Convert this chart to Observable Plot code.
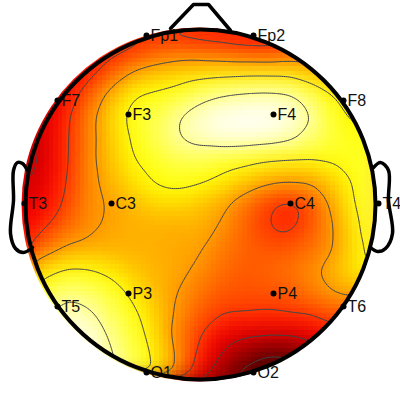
<!DOCTYPE html>
<html><head><meta charset="utf-8">
<style>html,body{margin:0;padding:0;background:#fff}svg{display:block}</style>
<script src="https://cdn.jsdelivr.net/npm/d3@7"></script>
<script src="https://cdn.jsdelivr.net/npm/@observablehq/plot@0.6"></script>
</head><body>
<script>
// Head-centred coordinates, y up
const gridX = [-176,-154,-132,-110,-88,-66,-44,-22,0,22,44,66,88,110,132,154,176];
const gridY = [176,154,132,110,88,66,44,22,0,-22,-44,-66,-88,-110,-132,-154,-176];
const grid = [
[.42,.42,.42,.42,.42,.42,.40,.38,.36,.36,.36,.36,.38,.42,.50,.60,.65],
[.38,.38,.38,.38,.42,.45,.50,.53,.52,.50,.47,.46,.50,.55,.60,.62,.65],
[.32,.32,.35,.42,.52,.62,.66,.68,.70,.71,.72,.72,.72,.66,.63,.64,.68],
[.28,.30,.40,.52,.65,.75,.77,.80,.86,.90,.92,.93,.92,.85,.75,.70,.71],
[.25,.33,.44,.57,.70,.79,.83,.90,.96,.99,1.0,1.0,.98,.91,.79,.73,.75],
[.25,.33,.45,.57,.68,.77,.83,.90,.94,.97,.97,.96,.93,.86,.80,.77,.78],
[.25,.33,.45,.58,.67,.75,.79,.82,.83,.80,.78,.75,.74,.74,.76,.78,.80],
[.27,.35,.46,.58,.64,.71,.76,.78,.76,.72,.67,.62,.60,.60,.67,.76,.83],
[.30,.38,.48,.58,.61,.65,.69,.69,.66,.62,.54,.46,.41,.48,.62,.75,.85],
[.35,.45,.53,.58,.62,.635,.635,.625,.635,.59,.52,.45,.42,.49,.59,.72,.85],
[.45,.55,.62,.635,.635,.635,.63,.62,.61,.55,.52,.50,.50,.53,.59,.70,.82],
[.65,.72,.77,.76,.72,.665,.64,.62,.58,.53,.50,.52,.54,.58,.64,.72,.75],
[.75,.82,.88,.85,.80,.72,.65,.60,.54,.50,.49,.49,.50,.55,.60,.62,.60],
[.85,.90,.95,.92,.84,.77,.68,.58,.50,.45,.45,.44,.45,.45,.50,.50,.50],
[.90,.95,.97,.97,.88,.80,.70,.55,.45,.33,.30,.29,.29,.33,.38,.40,.40],
[.92,.95,.95,.98,.91,.82,.73,.58,.40,.28,.20,.13,.14,.20,.28,.30,.30],
[.92,.92,.92,.92,.92,.85,.73,.55,.34,.16,.07,.02,.06,.10,.15,.20,.25]
];
const levels = [0.15,0.3,0.45,0.6,0.75,0.9];
const names = ["Fp1","Fp2","F7","F8","F3","F4","T3","C3","C4","T4","T5","P3","P4","T6","O1","O2"];
const elecX = [-54,53,-143,143,-72,73,-176,-89,90,178,-143,-72,73,143,-54,53];
const elecY = [169,169,104,104,90,90,1,1,1,1,-102,-89,-89,-102,-168,-168];
const noseX = [-30,-7,8,30];
const noseY = [176,200,200,174];
const earLX = [-173,-178,-183,-187,-187,-190,-185,-177,-168];
const earLY = [34,41,42,34,4,-29,-44,-48,-43];
const earRX = [173,180,188,188,192,185,177,170];
const earRY = [37,42,34,4,-29,-44,-47,-43];
const rasterCenterX = -2, rasterRadius = 177, headRadius = 175;

const samples = [];
gridY.forEach((y,j)=>gridX.forEach((x,i)=>samples.push({x,y,v:grid[j][i]})));
const electrodes = names.map((name,i)=>({name,x:elecX[i],y:elecY[i]}));
const path = (xs,ys)=>xs.map((x,i)=>({x,y:ys[i]}));

function clipCircle(cx, r, id){
  return function(index, scales, values, dims, ctx, next){
    const g = next(index, scales, values, dims, ctx);
    const ns="http://www.w3.org/2000/svg";
    const cp=document.createElementNS(ns,"clipPath"); cp.setAttribute("id",id);
    const c=document.createElementNS(ns,"circle");
    c.setAttribute("cx",scales.x(cx)); c.setAttribute("cy",scales.y(0)); c.setAttribute("r",r);
    cp.appendChild(c); g.appendChild(cp);
    g.setAttribute("clip-path",`url(#${id})`);
    return g;
  };
}

const chart = Plot.plot({
  width:400,height:400,margin:0,
  style:{background:"#fff"},
  x:{domain:[-200,200],range:[0,400],axis:null},
  y:{domain:[-196,204],range:[400,0],axis:null},
  color:{type:"linear",domain:[0,.37,.75,1],range:["#000000","#ff0000","#ffff00","#ffffff"],interpolate:"rgb"},
  marks:[
    Plot.raster(samples,{x:"x",y:"y",fill:"v",interpolate:"barycentric",pixelSize:4.4,blur:1.6,imageRendering:"pixelated",render:clipCircle(rasterCenterX,rasterRadius,"rc")}),
    Plot.contour(samples,{x:"x",y:"y",value:"v",fill:"none",stroke:"#444",strokeWidth:1,thresholds:levels,interpolate:"barycentric",blur:3,render:clipCircle(0,headRadius,"cc")}),
    Plot.text(electrodes,{x:"x",y:"y",text:"name",textAnchor:"start",dx:4,fontSize:16,fontFamily:"Liberation Sans",fill:"#111"}),
    Plot.dot([{x:0,y:0}],{x:"x",y:"y",r:headRadius,fill:"none",stroke:"#000",strokeWidth:4}),
    Plot.line(path(noseX,noseY),{x:"x",y:"y",stroke:"#000",strokeWidth:3.5}),
    Plot.line(path(earLX,earLY),{x:"x",y:"y",stroke:"#000",strokeWidth:3.5,curve:"catmull-rom"}),
    Plot.line(path(earRX,earRY),{x:"x",y:"y",stroke:"#000",strokeWidth:3.5,curve:"catmull-rom"}),
    Plot.dot(electrodes,{x:"x",y:"y",r:3,fill:"#000",stroke:null})
  ]
});
document.body.appendChild(chart);
</script>
</body></html>
